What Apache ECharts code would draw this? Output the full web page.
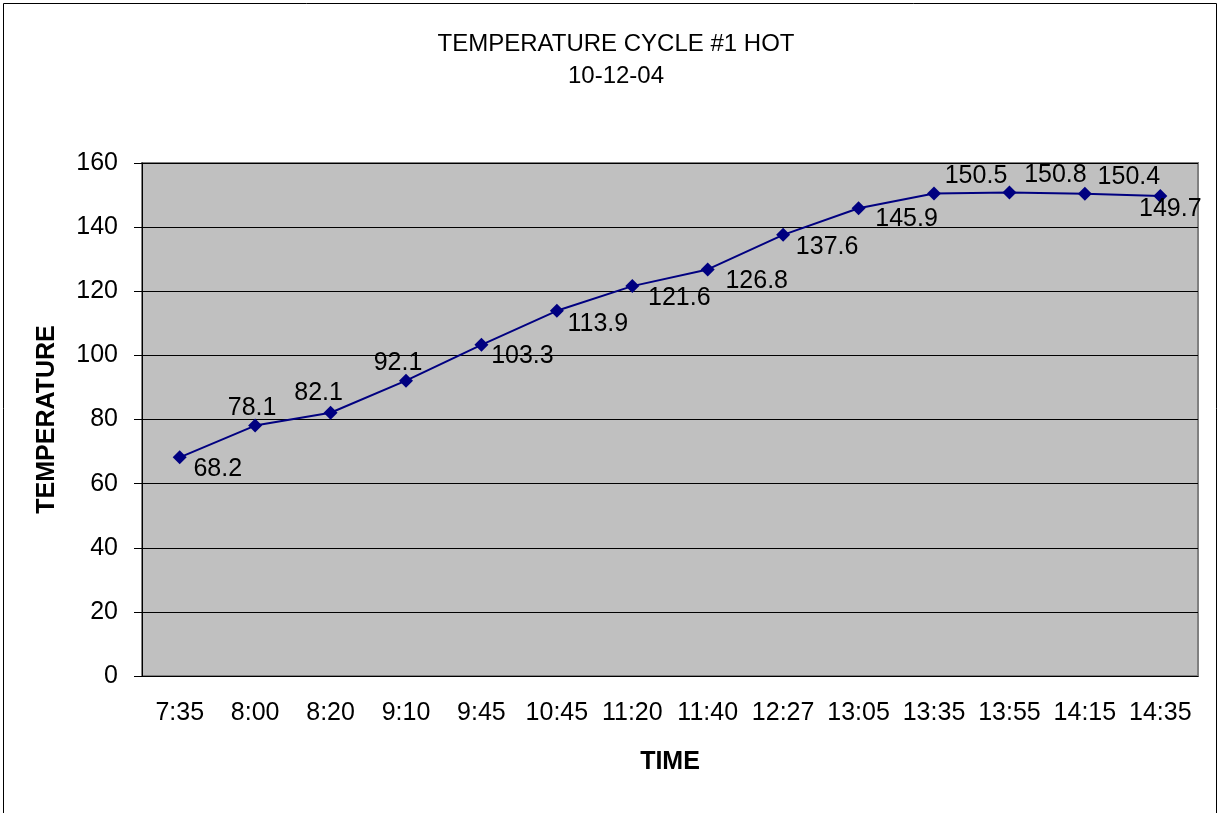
<!DOCTYPE html>
<html>
<head>
<meta charset="utf-8">
<script src="https://cdn.jsdelivr.net/npm/echarts@6/dist/echarts.min.js"></script>
<style>
  html, body { margin: 0; padding: 0; background: #fff; }
  #chart { width: 1219px; height: 813px; }
</style>
</head>
<body>
<div id="chart"></div>
<script>
var times = ['7:35', '8:00', '8:20', '9:10', '9:45', '10:45', '11:20', '11:40', '12:27', '13:05', '13:35', '13:55', '14:15', '14:35'];
var temps = [68.2, 78.1, 82.1, 92.1, 103.3, 113.9, 121.6, 126.8, 137.6, 145.9, 150.5, 150.8, 150.4, 149.7];

// where each value label sits relative to its point (px)
var labelOffsets = [[38, 12], [-3, -17], [-12, -20], [-8, -18], [41, 11], [41, 13], [47, 12],
  [49, 12], [44, 12], [48, 11], [42, -17], [46, -17], [44, -17], [10, 13]];

var chart = echarts.init(document.getElementById('chart'));
var font = 'Liberation Sans, Arial, sans-serif';

chart.setOption({
  animation: false,
  textStyle: { fontFamily: font },
  title: {
    text: 'TEMPERATURE CYCLE #1 HOT',
    subtext: '10-12-04',
    left: 611,
    textAlign: 'center',
    top: 27,
    itemGap: 8,
    textStyle: { fontSize: 24, fontWeight: 'normal', color: '#000', fontFamily: font },
    subtextStyle: { fontSize: 24, color: '#000', fontFamily: font }
  },
  graphic: [{
    type: 'rect',
    shape: { x: 3.5, y: 3.5, width: 1213, height: 830 },
    style: { fill: 'none', stroke: '#000', lineWidth: 1 }
  }],
  grid: {
    left: 142, right: 21, top: 163, bottom: 137,
    show: true,
    backgroundColor: '#c0c0c0',
    borderColor: '#808080',
    borderWidth: 2
  },
  xAxis: {
    type: 'category',
    data: times,
    name: 'TIME',
    nameLocation: 'middle',
    nameGap: 74,
    nameTextStyle: { fontSize: 25, fontWeight: 'bold', color: '#000', fontFamily: font },
    axisLine: { lineStyle: { color: '#000', width: 1 } },
    axisTick: { length: 8, lineStyle: { color: '#000' } },
    axisLabel: { fontSize: 25, color: '#000', margin: 25, fontFamily: font, interval: 0 }
  },
  yAxis: {
    type: 'value',
    min: 0, max: 160, interval: 20,
    name: 'TEMPERATURE',
    nameLocation: 'middle',
    nameGap: 82,
    nameRotate: 90,
    nameTextStyle: { fontSize: 25, fontWeight: 'bold', color: '#000', fontFamily: font },
    axisLine: { show: true, lineStyle: { color: '#000', width: 1 } },
    axisTick: { show: true, length: 8, lineStyle: { color: '#000' } },
    axisLabel: { fontSize: 25, color: '#000', margin: 24, fontFamily: font },
    splitLine: { lineStyle: { color: '#000', width: 1 } }
  },
  series: [{
    type: 'line',
    data: temps.map(function (v, i) {
      return {
        value: v,
        label: { offset: labelOffsets[i] }
      };
    }),
    symbol: 'diamond',
    symbolSize: 14,
    lineStyle: { color: '#000080', width: 2 },
    itemStyle: { color: '#000080' },
    label: {
      show: true,
      position: 'inside',
      fontSize: 25,
      color: '#000',
      fontFamily: font
    }
  }]
});
</script>
</body>
</html>
